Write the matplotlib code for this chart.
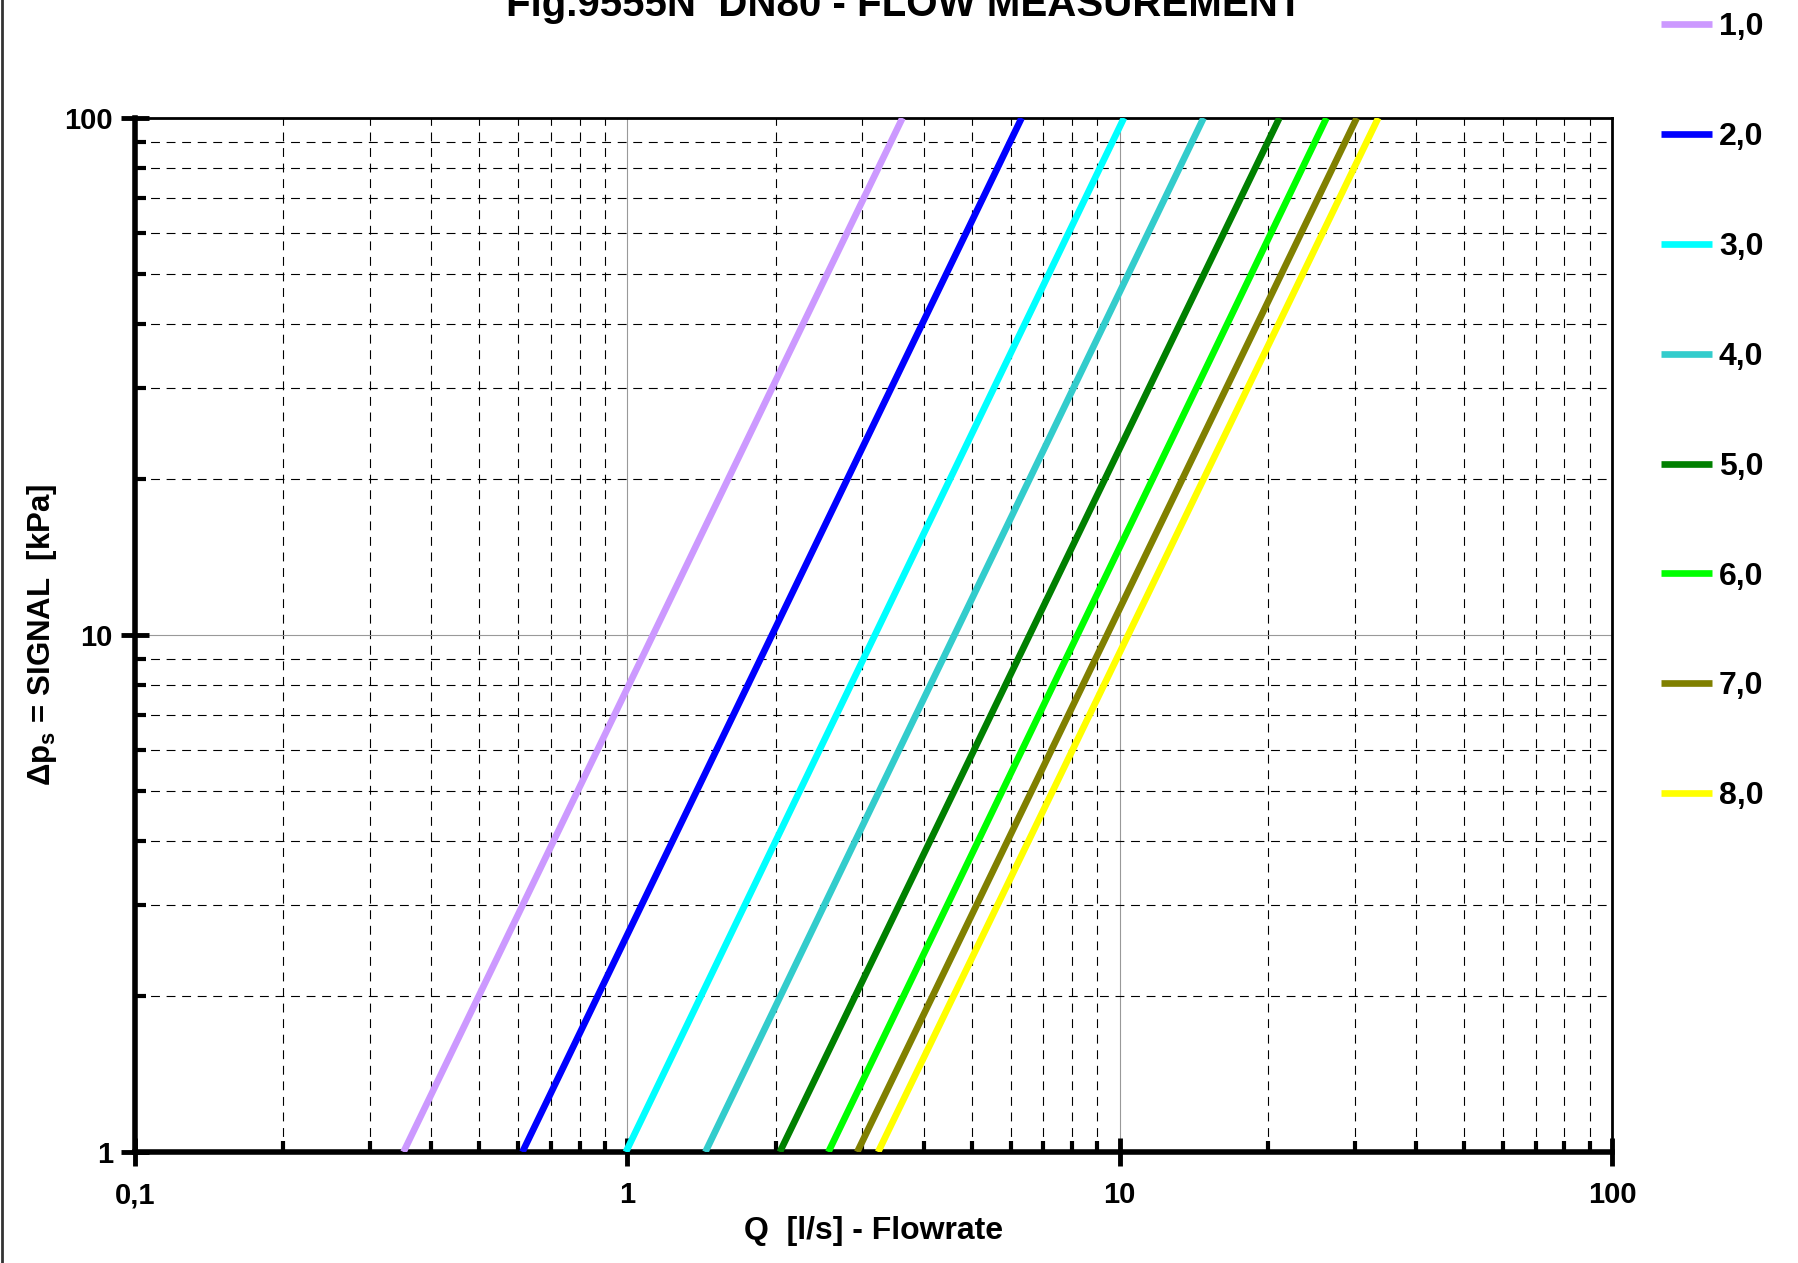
import matplotlib
matplotlib.use("Agg")
import matplotlib.pyplot as plt
from matplotlib.ticker import FixedLocator, NullFormatter

plt.rcParams['font.family'] = ['Liberation Sans', 'DejaVu Sans']
plt.rcParams['mathtext.fontset'] = 'custom'
plt.rcParams['mathtext.bf'] = 'Liberation Sans:bold'
plt.rcParams['mathtext.default'] = 'bf'

# opening positions and their colours
labels = ['1,0', '2,0', '3,0', '4,0', '5,0', '6,0', '7,0', '8,0']
colors = ['#CC99FF', '#0000FF', '#00FFFF', '#33CCCC', '#008000', '#00FF00', '#808000', '#FFFF00']
q_at_1 = [0.351, 0.612, 0.993, 1.44, 2.04, 2.56, 2.93, 3.23]
q_at_100 = [3.62, 6.32, 10.2, 14.8, 21.1, 26.3, 30.3, 33.5]
dp_ends = [1, 100]

x_ticks = [0.1, 1, 10, 100]
x_ticklabels = ['0,1', '1', '10', '100']
y_ticks = [1, 10, 100]
y_ticklabels = ['1', '10', '100']

fig = plt.figure(figsize=(17.98, 12.63), dpi=100)
ax = fig.add_axes([0.0751, 0.0879, 0.8215, 0.8187])

for lab, col, q1, q2 in zip(labels, colors, q_at_1, q_at_100):
    ax.plot([q1, q2], dp_ends, color=col, lw=4.8, label=lab, solid_capstyle='butt', zorder=3)

ax.set_xscale('log')
ax.set_yscale('log')
ax.set_xlim(0.1, 100)
ax.set_ylim(1, 100)

minors = [m * 10.0 ** e for e in (-1, 0, 1, 2) for m in range(2, 10)]
ax.xaxis.set_major_locator(FixedLocator(x_ticks))
ax.yaxis.set_major_locator(FixedLocator(y_ticks))
ax.xaxis.set_minor_locator(FixedLocator(minors))
ax.yaxis.set_minor_locator(FixedLocator(minors))
ax.xaxis.set_minor_formatter(NullFormatter())
ax.yaxis.set_minor_formatter(NullFormatter())
ax.set_xticklabels(x_ticklabels, fontsize=21, fontweight='bold')
ax.set_yticklabels(y_ticklabels, fontsize=21, fontweight='bold')

ax.grid(which='major', color='#999999', lw=0.8, ls='-')
ax.grid(which='minor', color='black', lw=0.8, ls=(0, (8, 6)))

ax.tick_params(which='major', direction='inout', length=20, width=3.5)
ax.tick_params(axis='x', which='major', pad=11)
ax.tick_params(axis='y', which='major', pad=6)
ax.tick_params(which='minor', direction='in', length=8, width=3)

for side in ('left', 'bottom'):
    ax.spines[side].set_linewidth(4)
for side in ('top', 'right'):
    ax.spines[side].set_linewidth(2)

ax.set_xlabel('Q  [l/s] - Flowrate', fontsize=23, fontweight='bold', labelpad=5)
ax.set_ylabel('Δp$_{s}$ = SIGNAL  [kPa]', fontsize=22.5, fontweight='bold', labelpad=4)

fig.text(0.503, 0.987, 'Fig.9555N  DN80 - FLOW MEASUREMENT', ha='center', va='baseline',
         fontsize=29, fontweight='bold')

fig.legend(loc='upper left', bbox_to_anchor=(0.908, 1.013), frameon=False,
           handlelength=1.6, handletextpad=0.2, labelspacing=2.5,
           prop={'weight': 'bold', 'size': 23})

fig.add_artist(plt.Line2D([0.001, 0.001], [0, 1], color='#333333', lw=2))

fig.savefig('out.png', dpi=100)
